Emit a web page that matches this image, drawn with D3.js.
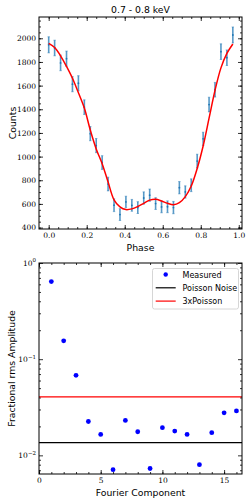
<!DOCTYPE html>
<html>
<head>
<meta charset="utf-8">
<script src="https://cdn.jsdelivr.net/npm/d3@7"></script>
<style>
  body { margin: 0; background: #fff; }
  svg { display: block; }
  .tick text { font-family: "DejaVu Serif", serif; font-size: 7.5px; }
  .lab { font-family: "DejaVu Sans", sans-serif; font-size: 9.3px; }
  .leg { font-family: "DejaVu Sans", sans-serif; font-size: 8px; }
</style>
</head>
<body>
<svg id="chart" width="252" height="504"></svg>
<script>
// pulse profile, 32 phase bins
const phaseBins = d3.range(32).map(i => i / 32);
const counts = [1945, 1918, 1792, 1828, 1612, 1620, 1418, 1194, 1093, 950,
                768, 589, 510, 617, 588, 569, 650, 674, 603, 575,
                576, 569, 737, 701, 758, 962, 1150, 1440, 1565, 1887,
                1836, 2028];
const countErr = [68, 66, 66, 64, 64, 64, 62, 60, 60, 58,
                  58, 54, 50, 48, 50, 50, 52, 52, 50, 50,
                  50, 52, 52, 52, 54, 58, 56, 62, 62, 66,
                  66, 68];
// fitted model at the bin phases
const modelCounts = [1957, 1922, 1852, 1762, 1662, 1540, 1410, 1225, 1065, 940,
                     785, 635, 575, 552, 558, 578, 605, 632, 640, 625,
                     605, 592, 610, 662, 752, 900, 1090, 1325, 1560, 1750,
                     1872, 1952];

// fourier amplitudes
const harmonics = d3.range(1, 17);
const rmsAmp = [0.641, 0.155, 0.068, 0.0225, 0.0165, 0.0071, 0.0231, 0.0176,
                0.0073, 0.0194, 0.0179, 0.0165, 0.0080, 0.0172, 0.0277, 0.029];
const poissonNoise = 0.01355;
const poissonFactor = 3;

const svg = d3.select('#chart');

// ---------- top panel ----------
const T = { left: 39, right: 242, top: 17, bottom: 229 };
const xPhase = d3.scaleLinear().domain([-0.051, 1.017]).range([T.left, T.right]);
const yCounts = d3.scaleLinear().domain([388, 2180]).range([T.bottom, T.top]);

function tickAxis(g, axis) {
    g.call(axis);
    g.select('.domain').remove();
    g.selectAll('.tick line').attr('stroke', '#000').attr('stroke-width', 0.8);
}

const xMaj = d3.range(0, 1.01, 0.2), xMin = d3.range(0, 1.01, 0.05);
const yMaj = d3.range(400, 2001, 200), yMin = d3.range(400, 2151, 50);

svg.append('g').attr('transform', `translate(0,${T.bottom})`)
    .call(g => tickAxis(g, d3.axisBottom(xPhase).tickValues(xMin).tickSize(-2).tickFormat('')));
svg.append('g').attr('transform', `translate(0,${T.bottom})`)
    .call(g => tickAxis(g, d3.axisBottom(xPhase).tickValues(xMaj).tickSize(-4).tickPadding(4).tickFormat(d3.format('.1f'))));
svg.append('g').attr('transform', `translate(0,${T.top})`)
    .call(g => tickAxis(g, d3.axisTop(xPhase).tickValues(xMin).tickSize(-2).tickFormat('')));
svg.append('g').attr('transform', `translate(0,${T.top})`)
    .call(g => tickAxis(g, d3.axisTop(xPhase).tickValues(xMaj).tickSize(-4).tickFormat('')));
svg.append('g').attr('transform', `translate(${T.left},0)`)
    .call(g => tickAxis(g, d3.axisLeft(yCounts).tickValues(yMin).tickSize(-2).tickFormat('')));
svg.append('g').attr('transform', `translate(${T.left},0)`)
    .call(g => tickAxis(g, d3.axisLeft(yCounts).tickValues(yMaj).tickSize(-4).tickPadding(3).tickFormat(d3.format('d'))));
svg.append('g').attr('transform', `translate(${T.right},0)`)
    .call(g => tickAxis(g, d3.axisRight(yCounts).tickValues(yMin).tickSize(-2).tickFormat('')));
svg.append('g').attr('transform', `translate(${T.right},0)`)
    .call(g => tickAxis(g, d3.axisRight(yCounts).tickValues(yMaj).tickSize(-4).tickFormat('')));

// error bars
const eb = svg.append('g');
phaseBins.forEach((p, i) => {
    const x = xPhase(p);
    const y0 = yCounts(counts[i] - countErr[i]), y1 = yCounts(counts[i] + countErr[i]);
    eb.append('line').attr('x1', x).attr('x2', x).attr('y1', y0).attr('y2', y1)
        .attr('stroke', '#1f77b4').attr('stroke-opacity', 0.75).attr('stroke-width', 1.6);
    [y0, y1].forEach(yy => eb.append('line').attr('x1', x - 1.2).attr('x2', x + 1.2)
        .attr('y1', yy).attr('y2', yy).attr('stroke', '#1f77b4').attr('stroke-opacity', 0.6).attr('stroke-width', 0.8));
    eb.append('circle').attr('cx', x).attr('cy', yCounts(counts[i])).attr('r', 0.9).attr('fill', '#1f77b4');
});

svg.append('path')
    .datum(phaseBins.map((p, i) => [p, modelCounts[i]]))
    .attr('fill', 'none').attr('stroke', '#ff0000').attr('stroke-width', 1.5)
    .attr('d', d3.line().x(d => xPhase(d[0])).y(d => yCounts(d[1])).curve(d3.curveCatmullRom));

svg.append('rect').attr('x', T.left).attr('y', T.top)
    .attr('width', T.right - T.left).attr('height', T.bottom - T.top)
    .attr('fill', 'none').attr('stroke', '#000').attr('stroke-width', 1);

svg.append('text').attr('class', 'lab').attr('x', (T.left + T.right) / 2).attr('y', 13)
    .attr('text-anchor', 'middle').text('0.7 - 0.8 keV');
svg.append('text').attr('class', 'lab').attr('x', (T.left + T.right) / 2).attr('y', 251)
    .attr('text-anchor', 'middle').text('Phase');
svg.append('text').attr('class', 'lab').attr('transform', `translate(16,${(T.top + T.bottom) / 2})rotate(-90)`)
    .attr('text-anchor', 'middle').text('Counts');

// ---------- bottom panel ----------
const B = { left: 39, right: 242, top: 263, bottom: 474 };
const xFour = d3.scaleLinear().domain([0, 16.45]).range([B.left, B.right]);
const yAmp = d3.scaleLog().domain([0.0064, 1]).range([B.bottom, B.top]);

const fMaj = [0, 5, 10, 15], fMin = d3.range(0, 17);
const aMaj = [0.01, 0.1, 1];
const aMin = [];
[0.001, 0.01, 0.1].forEach(d => d3.range(2, 10).forEach(k => {
    const v = d * k;
    if (v >= 0.0064 && v <= 1) aMin.push(v);
}));

svg.append('g').attr('transform', `translate(0,${B.bottom})`)
    .call(g => tickAxis(g, d3.axisBottom(xFour).tickValues(fMin).tickSize(-2).tickFormat('')));
svg.append('g').attr('transform', `translate(0,${B.bottom})`)
    .call(g => tickAxis(g, d3.axisBottom(xFour).tickValues(fMaj).tickSize(-4).tickPadding(3.5).tickFormat(d3.format('d'))));
svg.append('g').attr('transform', `translate(0,${B.top})`)
    .call(g => tickAxis(g, d3.axisTop(xFour).tickValues(fMin).tickSize(-2).tickFormat('')));
svg.append('g').attr('transform', `translate(0,${B.top})`)
    .call(g => tickAxis(g, d3.axisTop(xFour).tickValues(fMaj).tickSize(-4).tickFormat('')));
svg.append('g').attr('transform', `translate(${B.left},0)`)
    .call(g => tickAxis(g, d3.axisLeft(yAmp).tickValues(aMin).tickSize(-2).tickFormat('')));
const yl = svg.append('g').attr('transform', `translate(${B.left},0)`)
    .call(g => tickAxis(g, d3.axisLeft(yAmp).tickValues(aMaj).tickSize(-4).tickPadding(3).tickFormat('')));
yl.selectAll('.tick text').each(function (d) {
    const t = d3.select(this);
    const e = Math.round(Math.log10(d));
    t.append('tspan').text('10');
    t.append('tspan').attr('dy', -3.5).style('font-size', '5.5px').text(e === 0 ? '0' : '\u2212' + (-e));
});
svg.append('g').attr('transform', `translate(${B.right},0)`)
    .call(g => tickAxis(g, d3.axisRight(yAmp).tickValues(aMin).tickSize(-2).tickFormat('')));
svg.append('g').attr('transform', `translate(${B.right},0)`)
    .call(g => tickAxis(g, d3.axisRight(yAmp).tickValues(aMaj).tickSize(-4).tickFormat('')));

svg.append('line').attr('x1', B.left).attr('x2', B.right)
    .attr('y1', yAmp(poissonNoise)).attr('y2', yAmp(poissonNoise))
    .attr('stroke', '#000').attr('stroke-width', 1.2);
svg.append('line').attr('x1', B.left).attr('x2', B.right)
    .attr('y1', yAmp(poissonNoise * poissonFactor)).attr('y2', yAmp(poissonNoise * poissonFactor))
    .attr('stroke', '#ff0000').attr('stroke-width', 1.2);

svg.append('g').selectAll('circle')
    .data(harmonics.map((h, i) => [h, rmsAmp[i]]))
    .join('circle')
    .attr('cx', d => xFour(d[0])).attr('cy', d => yAmp(d[1]))
    .attr('r', 2.4).attr('fill', '#0000ff');

svg.append('rect').attr('x', B.left).attr('y', B.top)
    .attr('width', B.right - B.left).attr('height', B.bottom - B.top)
    .attr('fill', 'none').attr('stroke', '#000').attr('stroke-width', 1);

// legend
const leg = svg.append('g');
leg.append('rect').attr('x', 152.5).attr('y', 268.5).attr('width', 86).attr('height', 40.5)
    .attr('rx', 2).attr('fill', '#fff').attr('stroke', '#ccc').attr('stroke-width', 0.8);
const legItems = ['Measured', 'Poisson Noise', '3xPoisson'];
legItems.forEach((name, i) => {
    const y = 274.5 + i * 13.3;
    if (i === 0) {
        leg.append('circle').attr('cx', 165.7).attr('cy', y).attr('r', 2.2).attr('fill', '#0000ff');
    } else {
        leg.append('line').attr('x1', 155.7).attr('x2', 175.7).attr('y1', y).attr('y2', y)
            .attr('stroke', i === 1 ? '#000' : '#ff0000').attr('stroke-width', 1.2);
    }
    leg.append('text').attr('class', 'leg').attr('x', 182.5).attr('y', y + 3).text(name);
});

svg.append('text').attr('class', 'lab').attr('x', (B.left + B.right) / 2).attr('y', 496)
    .attr('text-anchor', 'middle').text('Fourier Component');
svg.append('text').attr('class', 'lab').attr('transform', `translate(15,${(B.top + B.bottom) / 2})rotate(-90)`)
    .attr('text-anchor', 'middle').text('Fractional rms Amplitude');
</script>
</body>
</html>
